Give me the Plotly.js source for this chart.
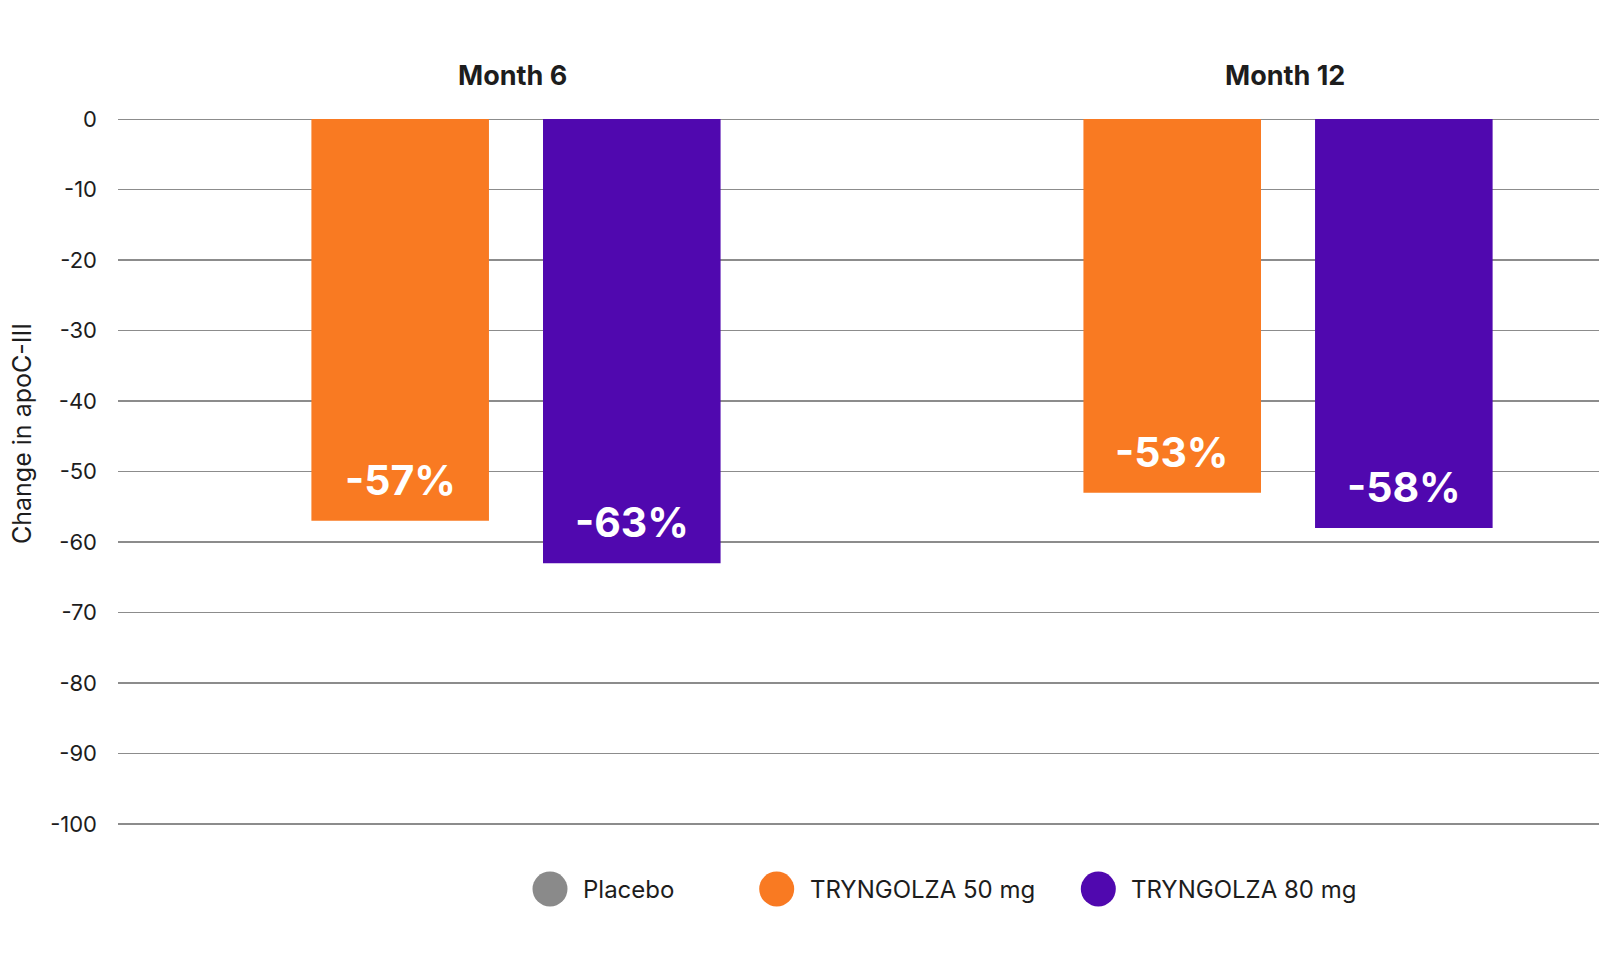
<!DOCTYPE html>
<html>
<head>
<meta charset="utf-8">
<script src="https://cdn.plot.ly/plotly-3.0.1.min.js"></script>
<style>
  html, body { margin: 0; padding: 0; background: #ffffff; }
  #chart { width: 1620px; height: 960px; }
</style>
</head>
<body>
<div id="chart"></div>
<script>
// Change in apoC-III (%) by visit and dose group
const visits = ["Month 6", "Month 12"];
const seriesNames = ["Placebo", "TRYNGOLZA 50 mg", "TRYNGOLZA 80 mg"];
const seriesColors = ["#8a8a8a", "#f97a22", "#5008af"];
const dose50 = [-57, -53];
const dose80 = [-63, -58];
const yTicks = [0, -10, -20, -30, -40, -50, -60, -70, -80, -90, -100];

const FONT = "Inter, 'Open Sans', Roboto, sans-serif";
const W = 1620, H = 960;
const M = { l: 118, r: 21, t: 105, b: 122 };
const plotW = W - M.l - M.r, plotH = H - M.t - M.b;
const px2paperX = px => (px - M.l) / plotW;
const px2paperY = py => (H - M.b - py) / plotH;

// bar geometry in category units
const BAR_W = 0.23;
const OFF_50 = -0.265, OFF_80 = 0.035;

const traces = [
  {
    type: "bar", name: seriesNames[1], x: visits, y: dose50,
    offset: OFF_50, width: BAR_W,
    marker: { color: seriesColors[1], line: { width: 0 } },
    showlegend: false, hoverinfo: "skip"
  },
  {
    type: "bar", name: seriesNames[2], x: visits, y: dose80,
    offset: OFF_80, width: BAR_W,
    marker: { color: seriesColors[2], line: { width: 0 } },
    showlegend: false, hoverinfo: "skip"
  }
];

const annotations = [];

// value labels inside the bars, anchored to each bar's end
function addValueLabels(vals, off) {
  vals.forEach((v, i) => {
    annotations.push({
      x: i + off + BAR_W / 2, xref: "x", y: v, yref: "y",
      yshift: 41, showarrow: false, xanchor: "center", yanchor: "middle",
      text: v + "%",
      font: { family: FONT, size: 41, color: "#ffffff", weight: 700 }
    });
  });
}
addValueLabels(dose50, OFF_50);
addValueLabels(dose80, OFF_80);

// visit headings above each group
visits.forEach((v, i) => {
  annotations.push({
    x: i, xref: "x", xshift: -3, y: px2paperY(75.5), yref: "paper",
    showarrow: false, xanchor: "center", yanchor: "middle",
    text: v,
    font: { family: FONT, size: 27, color: "#1d1d1d", weight: 700 }
  });
});

// y-axis title
annotations.push({
  x: px2paperX(22), xref: "paper", y: px2paperY(434), yref: "paper",
  textangle: -90, showarrow: false, xanchor: "center", yanchor: "middle",
  text: "Change in apoC-III",
  font: { family: FONT, size: 25, color: "#1d1d1d" }
});

// legend: circles + labels
const legendX = [550, 776.7, 1098.3];
const legendY = 889;
const shapes = [];
seriesNames.forEach((name, i) => {
  shapes.push({
    type: "circle", xref: "paper", yref: "paper",
    xsizemode: "pixel", ysizemode: "pixel",
    xanchor: px2paperX(legendX[i]), yanchor: px2paperY(legendY),
    x0: -17.5, x1: 17.5, y0: -17.5, y1: 17.5,
    fillcolor: seriesColors[i], line: { width: 0 }
  });
  annotations.push({
    x: px2paperX(legendX[i] + 31), xref: "paper", y: px2paperY(legendY), yref: "paper",
    showarrow: false, xanchor: "left", yanchor: "middle",
    text: name,
    font: { family: FONT, size: 24, color: "#1d1d1d" }
  });
});

const layout = {
  width: W, height: H,
  margin: M,
  paper_bgcolor: "#ffffff", plot_bgcolor: "#ffffff",
  barmode: "overlay",
  showlegend: false,
  font: { family: FONT, color: "#1d1d1d" },
  xaxis: {
    type: "category", range: [-0.5155, 1.4028],
    showticklabels: false, showgrid: false, zeroline: false, showline: false, ticks: ""
  },
  yaxis: {
    range: [-102, 2],
    tickvals: yTicks,
    ticktext: yTicks.map(String),
    showgrid: true, gridcolor: "#8c8c8c", gridwidth: 1.2,
    zeroline: false, showline: false, ticks: "",
    ticklabelstandoff: 20,
    tickfont: { family: FONT, size: 22, color: "#1d1d1d" }
  },
  annotations: annotations,
  shapes: shapes
};

Plotly.newPlot("chart", traces, layout, { staticPlot: true, displayModeBar: false });
</script>
</body>
</html>
